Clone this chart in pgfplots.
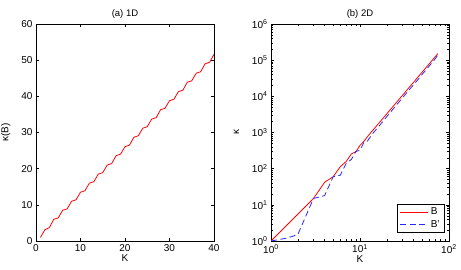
\documentclass[border=0pt]{standalone}
\usepackage{pgfplots}
\pgfplotsset{compat=1.18}
\usepackage{fontspec}
\setmainfont{Liberation Sans}
\begin{document}
\begin{tikzpicture}
\useasboundingbox (-36pt,-29pt) rectangle (425pt,241pt);
\pgfplotsset{
  every axis/.append style={
    scale only axis, width=178pt, height=217pt,
    font=\fontsize{10}{11}\selectfont,
    tick label style={font=\fontsize{10}{11}\selectfont},
    /pgf/number format/assume math mode=true,
    label style={font=\fontsize{10}{11}\selectfont},
    title style={font=\fontsize{9.5}{11}\selectfont, yshift=-4pt},
    major tick length=3pt, minor tick length=1.8pt,
    tick style={black, line width=0.4pt},
    axis line style={black, line width=0.5pt},
  }
}
\begin{axis}[
  at={(0pt,0pt)}, anchor=south west,
  xmin=0, xmax=40, ymin=0, ymax=60,
  xtick={0,10,20,30,40}, ytick={0,10,20,30,40,50,60},
  xlabel={K}, ylabel={κ(B)},
  title={(a) 1D},
  xlabel style={yshift=4pt},
  ylabel style={yshift=4pt},
]
\addplot[red, line width=0.8pt] coordinates {
(1,1.0) (2,3.1) (3,3.7) (4,6.0) (5,6.4) (6,8.5) (7,8.9) (8,11.0) (9,11.4) (10,13.5)
(11,13.9) (12,16.0) (13,16.4) (14,18.5) (15,18.9) (16,21.0) (17,21.4) (18,23.6) (19,24.0) (20,26.1)
(21,26.5) (22,28.7) (23,29.1) (24,31.2) (25,31.6) (26,33.7) (27,34.1) (28,36.3) (29,36.7) (30,38.8)
(31,39.2) (32,41.3) (33,41.7) (34,43.9) (35,44.3) (36,46.4) (37,46.8) (38,49.0) (39,49.4) (40,51.6)
};
\end{axis}
\begin{axis}[
  at={(235pt,0pt)}, anchor=south west,
  xmode=log, ymode=log,
  xmin=1, xmax=100, ymin=1, ymax=1000000,
  xtick={1,10,100}, xticklabels={10\textsuperscript{0},10\textsuperscript{1},10\textsuperscript{2}},
  ytick={1,10,100,1000,10000,100000,1000000},
  yticklabels={10\textsuperscript{0},10\textsuperscript{1},10\textsuperscript{2},10\textsuperscript{3},10\textsuperscript{4},10\textsuperscript{5},10\textsuperscript{6}},
  xlabel={K}, ylabel={κ},
  title={(b) 2D},
  xlabel style={yshift=4pt},
  ylabel style={yshift=6pt},
  legend style={at={(0.977,0.037)}, anchor=south east, draw=black, line width=0.5pt,
    font=\fontsize{10}{11}\selectfont, cells={anchor=west}, row sep=0pt},
  legend image code/.code={\draw[#1] (0pt,0pt) -- (28pt,0pt);},
]
\addplot[red, line width=0.8pt] coordinates {
(1,1) (2,5.5) (3,15) (4,42) (5,60) (6,113) (7,158) (8,255) (9,295) (10,440)
(11,560) (12,745) (14,1170) (16,1720) (18,2420) (20,3280) (24,5570) (28,8720)
(32,12840) (36,18080) (40,24500) (45,34500) (50,46800) (55,61700) (60,79400)
(65,100200) (70,124200) (75,152000)
};
\addlegendentry{B}
\addplot[blue!85!white, dashed, dash pattern=on 6pt off 3.5pt, line width=0.8pt] coordinates {
(1,1) (1.5,1.2) (2,1.5) (3,15) (4,18) (5,60) (6,66) (7,140) (8,180) (9,300) (10,320)
(11,520) (12,560) (14,960) (16,1400) (18,2000) (20,2750) (24,4700) (28,7400)
(32,11000) (36,15500) (40,21000) (45,29500) (50,40500) (55,53500) (60,69000)
(65,88000) (70,109000) (75,140000)
};
\addlegendentry{B'}
\end{axis}
\end{tikzpicture}
\end{document}
